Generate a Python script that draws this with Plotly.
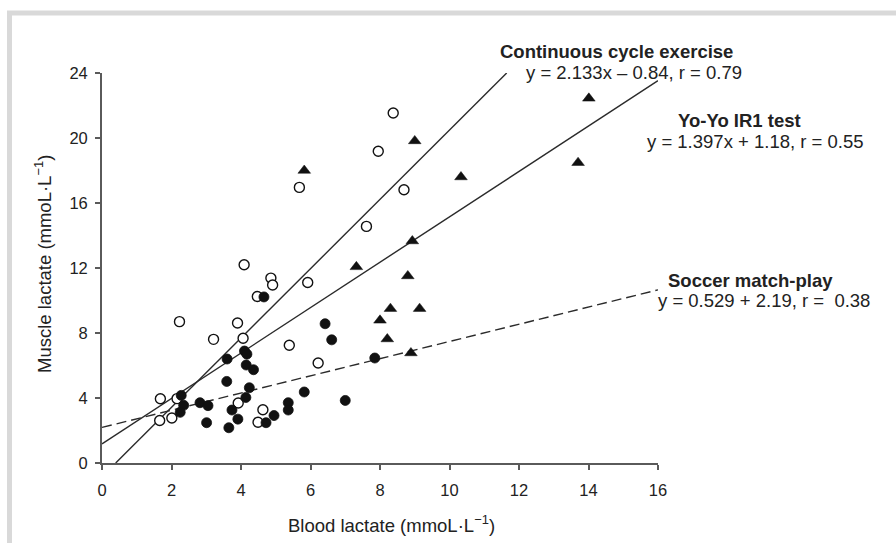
import plotly.graph_objects as go

# Continuous cycle exercise (open circles): blood vs muscle lactate, mmol/L
cycle_blood = [1.68, 2.16, 1.66, 2.01, 3.92, 4.63, 4.49, 2.23, 3.90, 3.21, 4.06, 5.39,
               6.22, 4.09, 4.86, 4.91, 4.47, 5.92, 5.68, 7.61, 7.95, 8.38, 8.69]
cycle_muscle = [3.95, 3.96, 2.62, 2.77, 3.69, 3.28, 2.51, 8.70, 8.62, 7.61, 7.68, 7.25,
                6.15, 12.20, 11.38, 10.95, 10.25, 11.11, 16.96, 14.56, 19.18, 21.54, 16.82]

# Soccer match-play (filled circles)
soccer_blood = [4.66, 6.42, 6.61, 7.85, 5.82, 7.00, 3.60, 4.10, 4.17, 4.15, 4.36, 3.59, 4.24,
                4.14, 2.28, 2.35, 2.25, 2.82, 3.05, 3.01, 3.74, 3.91, 3.65, 4.72, 4.95, 5.36, 5.36]
soccer_muscle = [10.22, 8.57, 7.58, 6.46, 4.37, 3.85, 6.40, 6.89, 6.70, 6.03, 5.74, 5.02, 4.63,
                 4.03, 4.16, 3.55, 3.12, 3.71, 3.53, 2.48, 3.26, 2.70, 2.17, 2.48, 2.92, 3.71, 3.26]

# Yo-Yo IR1 test (filled triangles)
yoyo_blood = [5.82, 9.00, 10.33, 14.01, 13.70, 8.93, 7.32, 8.80, 8.30, 9.14, 8.00, 8.21, 8.89]
yoyo_muscle = [18.00, 19.82, 17.60, 22.44, 18.48, 13.66, 12.07, 11.51, 9.50, 9.50, 8.78, 7.63, 6.77]

# Regression fits: name, slope, intercept, r, equation text template
fit_names = ["Continuous cycle exercise", "Yo-Yo IR1 test", "Soccer match-play"]
fit_slope = [2.133, 1.397, 0.529]
fit_intercept = [-0.84, 1.18, 2.19]
fit_r = [0.79, 0.55, 0.38]
fit_templates = ["y = {m:.3f}x – {b:.2f}, r = {r:.2f}",
                 "y = {m:.3f}x + {b:.2f}, r = {r:.2f}",
                 "y = {m:.3f} + {b:.2f}, r =  {r:.2f}"]
fit_dash = ["solid", "solid", "10px,5px"]

x_ticks = [0, 2, 4, 6, 8, 10, 12, 14, 16]
y_ticks = [0, 4, 8, 12, 16, 20, 24]
x_range = [0, 16]
y_range = [0, 24]

W, H = 896, 543
ML, MR, MT, MB = 102, 238, 73, 80
PW, PH = W - ML - MR, H - MT - MB

FONT = "Liberation Sans, Arial, Helvetica, sans-serif"
INK = "#222222"
AXIS = "#5a5a5a"
TXT = 18.5


def px(x):
    return (x - ML) / PW


def py(y):
    return (H - MB - y) / PH


fig = go.Figure()

# fitted regression lines, clipped to the axis box
for m, b, dash in zip(fit_slope, fit_intercept, fit_dash):
    xa = max(x_range[0], (y_range[0] - b) / m)
    xb = min(x_range[1], (y_range[1] - b) / m)
    fig.add_trace(go.Scatter(
        x=[xa, xb], y=[m * xa + b, m * xb + b], mode="lines",
        line=dict(color="#2b2b2b", width=1.4, dash=dash),
        hoverinfo="skip", showlegend=False))

fig.add_trace(go.Scatter(
    x=cycle_blood, y=cycle_muscle, mode="markers", name=fit_names[0],
    marker=dict(symbol="circle", size=10, color="white",
                line=dict(color="#111111", width=1.4)),
    showlegend=False))
fig.add_trace(go.Scatter(
    x=soccer_blood, y=soccer_muscle, mode="markers", name=fit_names[2],
    marker=dict(symbol="circle", size=10, color="#111111",
                line=dict(color="#111111", width=0.8)),
    showlegend=False))
fig.add_trace(go.Scatter(
    x=yoyo_blood, y=yoyo_muscle, mode="markers", name=fit_names[1],
    marker=dict(symbol="triangle-up", size=11, color="#111111",
                line=dict(color="#111111", width=0.5)),
    showlegend=False))

# labels for the fits: bold name plus the regression equation
label_pos = [((498, 51.7), (524, 72.7)),
             ((676, 120.7), (645, 141.7)),
             ((666, 280.0), (656, 300.7))]
annotations = []
for name, m, b, r, tpl, (p_name, p_eq) in zip(fit_names, fit_slope, fit_intercept,
                                              fit_r, fit_templates, label_pos):
    annotations.append(dict(
        text="<b>%s</b>" % name, x=px(p_name[0]), y=py(p_name[1]),
        xref="paper", yref="paper", xanchor="left", yanchor="middle",
        showarrow=False, font=dict(family=FONT, size=TXT, color=INK)))
    annotations.append(dict(
        text=tpl.format(m=m, b=abs(b), r=r), x=px(p_eq[0]), y=py(p_eq[1]),
        xref="paper", yref="paper", xanchor="left", yanchor="middle",
        showarrow=False, font=dict(family=FONT, size=TXT, color=INK)))

# axis titles
annotations.append(dict(
    text="Blood lactate (mmoL·L<sup>−1</sup>)", x=px(391), y=py(524),
    xref="paper", yref="paper", xanchor="center", yanchor="middle",
    showarrow=False, font=dict(family=FONT, size=TXT, color=INK)))
annotations.append(dict(
    text="Muscle lactate (mmoL·L<sup>−1</sup>)", x=px(43), y=py(264),
    xref="paper", yref="paper", xanchor="center", yanchor="middle",
    textangle=-90, showarrow=False, font=dict(family=FONT, size=TXT, color=INK)))

axis_common = dict(
    showline=True, linecolor=AXIS, linewidth=1.8, mirror=False,
    ticks="outside", ticklen=5, tickwidth=1.5, tickcolor=AXIS,
    showgrid=False, zeroline=False,
    tickfont=dict(family=FONT, size=16.5, color=INK))

fig.update_layout(
    width=W, height=H,
    margin=dict(l=ML, r=MR, t=MT, b=MB, pad=0),
    paper_bgcolor="white", plot_bgcolor="white",
    xaxis=dict(range=x_range, tickvals=x_ticks, ticklabelstandoff=6, **axis_common),
    yaxis=dict(range=y_range, tickvals=y_ticks, ticklabelstandoff=4, **axis_common),
    annotations=annotations,
    shapes=[dict(type="rect", xref="paper", yref="paper",
                 x0=px(9.5), y0=py(13), x1=px(W + 20), y1=py(H + 20),
                 line=dict(color="#d9d9d9", width=5), layer="below")],
)

fig.write_html("out.html")
